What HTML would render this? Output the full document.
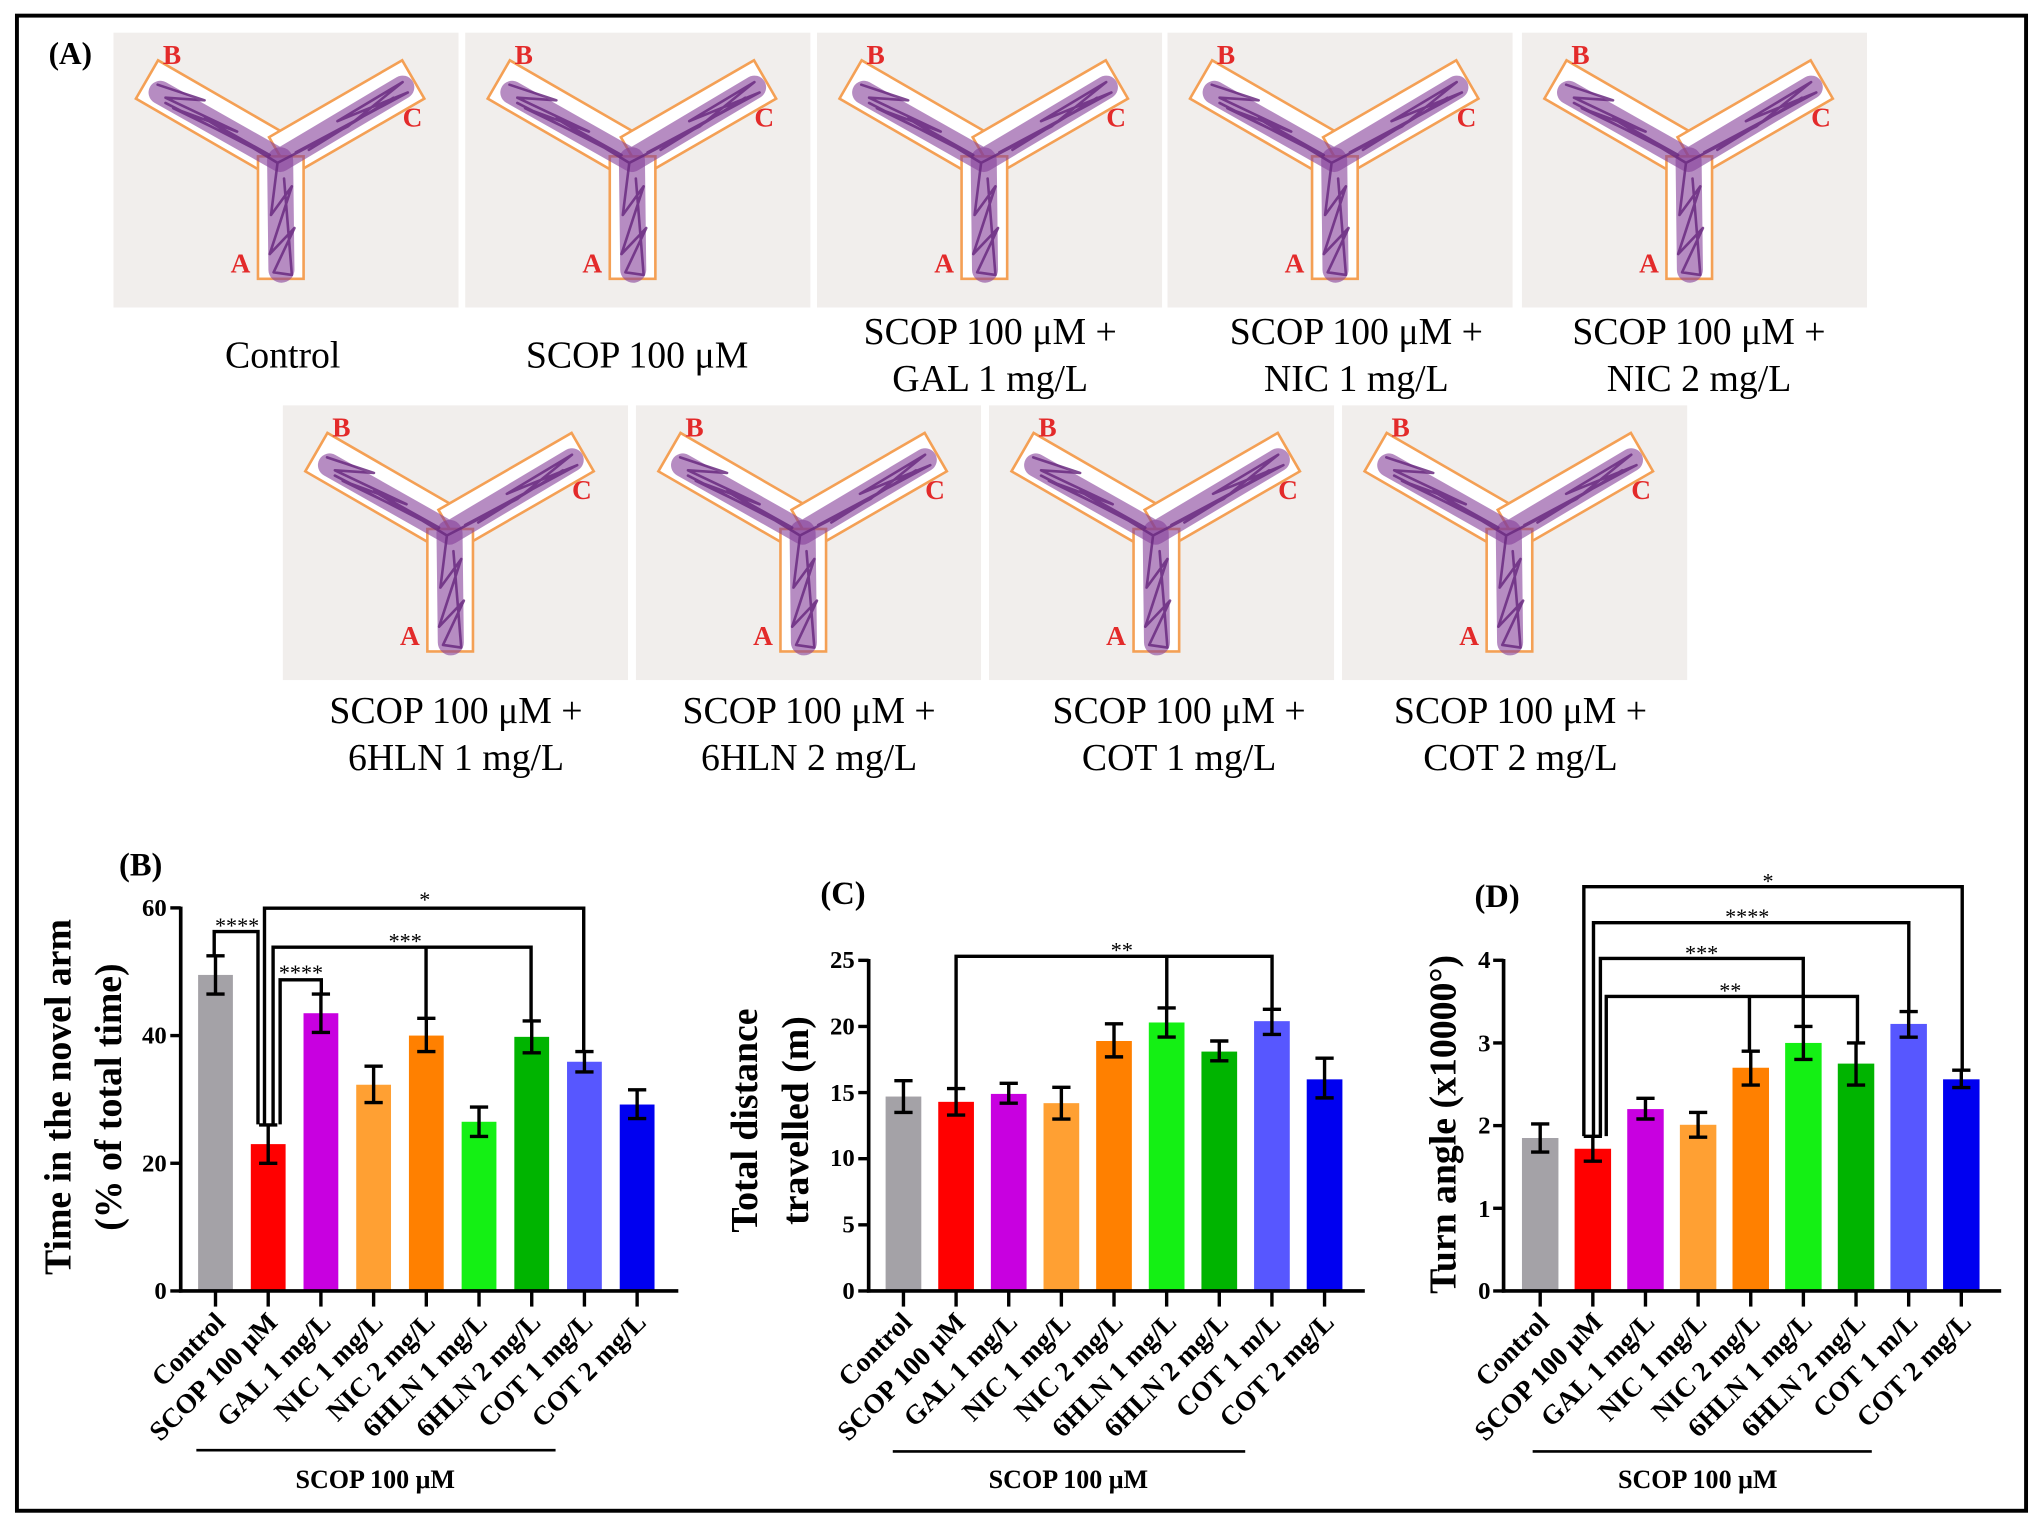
<!DOCTYPE html>
<html><head><meta charset="utf-8"><style>
html,body{margin:0;padding:0;background:#fff;}
svg{display:block;}
text{font-family:"Liberation Serif",serif;}
.b{font-weight:bold;}
</style></head><body>
<svg id="s" width="2043" height="1529" viewBox="0 0 1568 1173.5" preserveAspectRatio="none" xmlns="http://www.w3.org/2000/svg">
<defs>
<symbol id="maze" viewBox="0 0 265 211" width="265" height="211">
<rect x="0" y="0" width="265" height="211" fill="#f1eeec"/>
<g transform="translate(128,95) rotate(30)"><rect x="-118" y="-17" width="118" height="34" fill="#fff" stroke="#f4a055" stroke-width="2"/></g>
<g transform="translate(128,95) rotate(-30)"><rect x="0" y="-17" width="118" height="34" fill="#fff" stroke="#f4a055" stroke-width="2"/></g>
<rect x="111" y="95" width="35" height="94" fill="#fff" stroke="#f4a055" stroke-width="2"/>
<g fill="none" stroke="#86409a" stroke-linecap="round" stroke-linejoin="round">
<path d="M36,46 L128,98 L222,42" stroke-width="18" opacity="0.6"/>
<path d="M128,98 L129,182" stroke-width="20" opacity="0.6"/>
<path d="M34,40 L70,52 L40,50 L95,76 L46,58 L120,94 L70,66 L126,100 L180,72 L222,38 L172,68 L226,46 L140,92 M126,100 L121,140 L137,118 L120,170 L139,150 L123,184 L137,186 L131,112 M40,54 L110,90 M150,90 L215,50" stroke="#6a2a80" stroke-width="2" opacity="0.85"/>
</g>
<g fill="#e32a2a" font-weight="bold" font-size="21" font-family="Liberation Serif,serif">
<text x="90" y="184">A</text><text x="38" y="24">B</text><text x="222" y="72">C</text>
</g>
</symbol>
</defs>
<rect x="13" y="12" width="1542" height="1147.5" fill="none" stroke="#000" stroke-width="3"/>
<text x="54" y="49" class="b" font-size="24" text-anchor="middle">(A)</text>
<use href="#maze" x="87" y="25"/><use href="#maze" x="357" y="25"/><use href="#maze" x="627" y="25"/><use href="#maze" x="896" y="25"/><use href="#maze" x="1168" y="25"/>
<use href="#maze" x="217" y="311"/><use href="#maze" x="488" y="311"/><use href="#maze" x="759" y="311"/><use href="#maze" x="1030" y="311"/>
<g font-size="29" text-anchor="middle">
<text x="217" y="282">Control</text>
<text x="489" y="282">SCOP 100 μM</text>
<text x="760" y="264">SCOP 100 μM +</text><text x="760" y="300">GAL 1 mg/L</text>
<text x="1041" y="264">SCOP 100 μM +</text><text x="1041" y="300">NIC 1 mg/L</text>
<text x="1304" y="264">SCOP 100 μM +</text><text x="1304" y="300">NIC 2 mg/L</text>
<text x="350" y="555">SCOP 100 μM +</text><text x="350" y="591">6HLN 1 mg/L</text>
<text x="621" y="555">SCOP 100 μM +</text><text x="621" y="591">6HLN 2 mg/L</text>
<text x="905" y="555">SCOP 100 μM +</text><text x="905" y="591">COT 1 mg/L</text>
<text x="1167" y="555">SCOP 100 μM +</text><text x="1167" y="591">COT 2 mg/L</text>
</g>

<g class="b" font-size="25" text-anchor="middle">
<text x="108" y="672">(B)</text><text x="647" y="694">(C)</text><text x="1149" y="696">(D)</text>
</g>
<g class="b" font-size="29" text-anchor="middle">
<text transform="translate(54,842) rotate(-90)">Time in the novel arm</text>
<text transform="translate(93,842) rotate(-90)">(% of total time)</text>
<text transform="translate(581,860) rotate(-90)">Total distance</text>
<text transform="translate(620,860) rotate(-90)">travelled (m)</text>
<text transform="translate(1117,863) rotate(-90)">Turn angle (x10000°)</text>
</g>

<g class="b" font-size="19" text-anchor="end">
<text x="128" y="997">0</text><text x="128" y="899">20</text><text x="128" y="801">40</text><text x="128" y="703">60</text>
<text x="656" y="997">0</text><text x="656" y="946">5</text><text x="656" y="895">10</text><text x="656" y="845">15</text><text x="656" y="794">20</text><text x="656" y="743">25</text>
<text x="1144" y="997">0</text><text x="1144" y="934">1</text><text x="1144" y="870">2</text><text x="1144" y="807">3</text><text x="1144" y="743">4</text>
</g>

<g id="bars"></g>

<g fill="none" stroke="#000" stroke-width="2.6">
<path d="M203,863 V697 H448 V807"/>
<path d="M164.4,733 V715 H198 V863"/>
<path d="M209.6,863 V727 H407.6 V783.5 M327,781.6 V727"/>
<path d="M215,863 V752 H246.6 V763"/>
<path d="M733.8,835.5 V734 H976.3 V774.6 M895.5,773.6 V734"/>
<path d="M1215.6,872 V680.5 H1506 V821.4"/>
<path d="M1223,872 V708.2 H1465 V776.4"/>
<path d="M1228.3,872 V735.6 H1384 V787.8"/>
<path d="M1232.8,872 V764.8 H1425.6 V800.5 M1342.7,806.8 V764.8"/>
</g>
<g font-size="17" text-anchor="middle">
<text x="326" y="696">*</text><text x="182" y="716">****</text><text x="311" y="728">***</text><text x="231" y="752">****</text>
<text x="861" y="735">**</text>
<text x="1357" y="682">*</text><text x="1341" y="709">****</text><text x="1306" y="737">***</text><text x="1328" y="766">**</text>
</g>

<g class="b" font-size="21" text-anchor="end">
<text transform="translate(174,1016) rotate(-45)">Control</text>
<text transform="translate(214,1016) rotate(-45)">SCOP 100 μM</text>
<text transform="translate(255,1016) rotate(-45)">GAL 1 mg/L</text>
<text transform="translate(295,1016) rotate(-45)">NIC 1 mg/L</text>
<text transform="translate(335,1016) rotate(-45)">NIC 2 mg/L</text>
<text transform="translate(375,1016) rotate(-45)">6HLN 1 mg/L</text>
<text transform="translate(416,1016) rotate(-45)">6HLN 2 mg/L</text>
<text transform="translate(456,1016) rotate(-45)">COT 1 mg/L</text>
<text transform="translate(497,1016) rotate(-45)">COT 2 mg/L</text>

<text transform="translate(701,1016) rotate(-45)">Control</text>
<text transform="translate(742,1016) rotate(-45)">SCOP 100 μM</text>
<text transform="translate(782,1016) rotate(-45)">GAL 1 mg/L</text>
<text transform="translate(823,1016) rotate(-45)">NIC 1 mg/L</text>
<text transform="translate(863,1016) rotate(-45)">NIC 2 mg/L</text>
<text transform="translate(904,1016) rotate(-45)">6HLN 1 mg/L</text>
<text transform="translate(944,1016) rotate(-45)">6HLN 2 mg/L</text>
<text transform="translate(984,1016) rotate(-45)">COT 1 m/L</text>
<text transform="translate(1025,1016) rotate(-45)">COT 2 mg/L</text>

<text transform="translate(1190,1016) rotate(-45)">Control</text>
<text transform="translate(1231,1016) rotate(-45)">SCOP 100 μM</text>
<text transform="translate(1271,1016) rotate(-45)">GAL 1 mg/L</text>
<text transform="translate(1311,1016) rotate(-45)">NIC 1 mg/L</text>
<text transform="translate(1352,1016) rotate(-45)">NIC 2 mg/L</text>
<text transform="translate(1392,1016) rotate(-45)">6HLN 1 mg/L</text>
<text transform="translate(1433,1016) rotate(-45)">6HLN 2 mg/L</text>
<text transform="translate(1473,1016) rotate(-45)">COT 1 m/L</text>
<text transform="translate(1514,1016) rotate(-45)">COT 2 mg/L</text>
</g>

<g stroke="#000" stroke-width="2">
<line x1="150.7" y1="1113" x2="426.4" y2="1113"/>
<line x1="685.2" y1="1114" x2="955.7" y2="1114"/>
<line x1="1176.3" y1="1114" x2="1436.6" y2="1114"/>
</g>
<g class="b" font-size="20" text-anchor="middle">
<text x="288" y="1142">SCOP 100 μM</text><text x="820" y="1142">SCOP 100 μM</text><text x="1303" y="1142">SCOP 100 μM</text>
</g>
</svg>
<script>
var NS="http://www.w3.org/2000/svg",G=document.getElementById("bars");
function el(t,a){var e=document.createElementNS(NS,t);for(var k in a)e.setAttribute(k,a[k]);G.appendChild(e);return e;}
var cols=["#a4a2a7","#ff0000","#c800e0","#ffa033","#ff8000","#14f014","#00b400","#5757ff","#0000f0"];
function panel(ax,xend,y0,ppu,c0,dx,w,vals,ticks){
  vals.forEach(function(v,i){var cx=c0+dx*i;
    el("rect",{x:cx-w/2,y:y0-v[0]*ppu,width:w,height:v[0]*ppu,fill:cols[i]});
    var lo=y0-v[1]*ppu,hi=y0-v[2]*ppu;
    el("path",{d:"M"+cx+","+lo+"V"+hi+"M"+(cx-7)+","+lo+"H"+(cx+7)+"M"+(cx-7)+","+hi+"H"+(cx+7),stroke:"#000","stroke-width":2.6,fill:"none"});
    el("line",{x1:cx,y1:y0,x2:cx,y2:y0+12,stroke:"#000","stroke-width":2.6});
  });
  ticks.forEach(function(t){var y=y0-t*ppu;el("line",{x1:ax-8,y1:y,x2:ax,y2:y,stroke:"#000","stroke-width":2.6});});
  el("line",{x1:ax,y1:y0-ticks[ticks.length-1]*ppu-1,x2:ax,y2:y0+1.3,stroke:"#000","stroke-width":2.8});
  el("line",{x1:ax-1.4,y1:y0,x2:xend,y2:y0,stroke:"#000","stroke-width":2.8});
}
panel(138.7,520.6,990.8,4.9,165.4,40.45,26.7,
 [[49.5,46.5,52.5],[23,20,26],[43.5,40.5,46.5],[32.3,29.5,35.2],[40,37.5,42.7],[26.5,24.2,28.8],[39.8,37.3,42.3],[35.9,34.3,37.5],[29.2,27,31.5]],[0,20,40,60]);
panel(666.7,1047.5,990.8,10.15,693.4,40.4,27.4,
 [[14.7,13.5,15.9],[14.3,13.3,15.3],[14.9,14.2,15.7],[14.2,13,15.4],[18.9,17.7,20.2],[20.3,19.2,21.4],[18.1,17.4,18.9],[20.4,19.4,21.3],[16,14.6,17.6]],[0,5,10,15,20,25]);
panel(1154,1535.9,990.8,63.45,1182.1,40.4,28,
 [[1.85,1.68,2.02],[1.72,1.57,1.87],[2.2,2.08,2.33],[2.01,1.86,2.16],[2.7,2.49,2.9],[3.0,2.8,3.2],[2.75,2.49,3.0],[3.23,3.07,3.38],[2.56,2.46,2.67]],[0,1,2,3,4]);
</script>
</body></html>
